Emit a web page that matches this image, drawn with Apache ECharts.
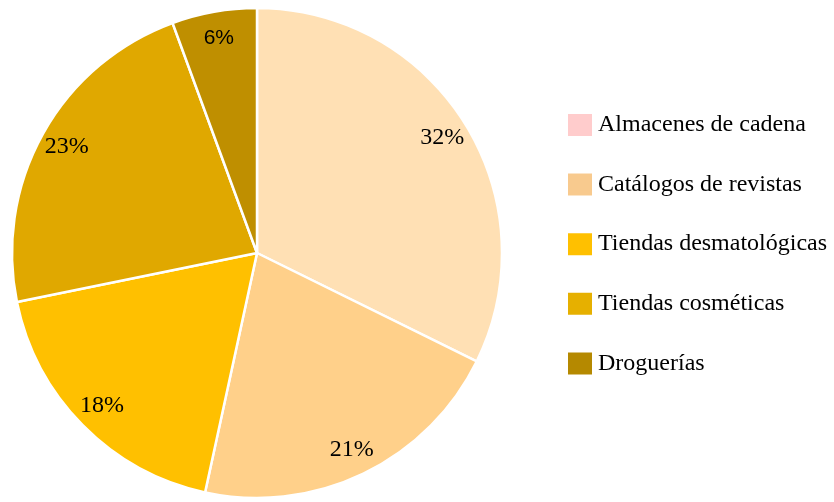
<!DOCTYPE html>
<html>
<head>
<meta charset="utf-8">
<script src="https://cdn.jsdelivr.net/npm/echarts@6/dist/echarts.min.js"></script>
<style>
  html, body { margin: 0; padding: 0; background: #fff; }
  #chart { width: 834px; height: 502px; }
</style>
</head>
<body>
<div id="chart"></div>
<script>
const categories = [
  "Almacenes de cadena",
  "Catálogos de revistas",
  "Tiendas desmatológicas",
  "Tiendas cosméticas",
  "Droguerías",
];
const values = [32.3, 21.1, 18.4, 22.6, 5.6];
const sliceColors = ["#FFE0B4", "#FFD08A", "#FFC000", "#E0A800", "#BF8F00"];
const legendColors = ["#FFCCCC", "#F8CA8E", "#FFC000", "#E6B000", "#B58900"];

const chart = echarts.init(document.getElementById("chart"));

const center = [257, 253];

chart.setOption({
  backgroundColor: "#fff",
  animation: false,
  legend: {
    orient: "vertical",
    left: 566,
    top: 112,
    padding: 0,
    itemWidth: 26,
    itemHeight: 24,
    itemGap: 33.6,
    icon: "rect",
    textStyle: {
      fontFamily: "Liberation Serif",
      fontSize: 24,
      color: "#000",
    },
    data: categories.map((name, i) => ({
      name: name,
      itemStyle: { color: legendColors[i] },
    })),
  },
  series: [
    {
      type: "pie",
      center: center,
      radius: 245,
      startAngle: 90,
      clockwise: true,
      label: { show: false },
      labelLine: { show: false },
      itemStyle: { borderColor: "#fff", borderWidth: 2.5 },
      emphasis: { disabled: true },
      data: categories.map((name, i) => ({
        name: name,
        value: values[i],
        itemStyle: { color: sliceColors[i] },
      })),
    },
    {
      // transparent ring only used to place labels near the rim
      type: "pie",
      center: center,
      radius: [185, 245],
      startAngle: 90,
      clockwise: true,
      silent: true,
      itemStyle: { color: "rgba(0,0,0,0)", borderWidth: 0 },
      labelLine: { show: false },
      label: {
        show: true,
        position: "inside",
        color: "#000",
        fontFamily: "Liberation Serif",
        fontSize: 24,
        formatter: (p) => Math.round(p.value) + "%",
      },
      data: categories.map((name, i) => ({
        name: name,
        value: values[i],
        label: i === 4 ? { fontFamily: "Liberation Sans", fontSize: 21 } : {},
      })),
    },
  ],
});
</script>
</body>
</html>
